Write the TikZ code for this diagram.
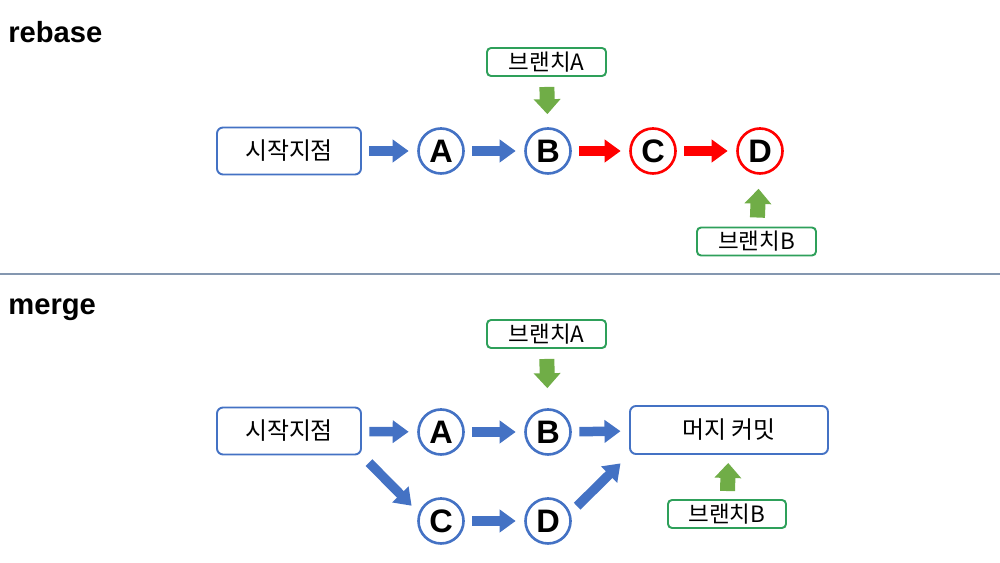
\documentclass[tikz,border=0pt]{standalone}
\usepackage{fontspec}
\setmainfont{Noto Sans CJK KR}
\newfontfamily\latinfont{Liberation Sans}
\usetikzlibrary{arrows.meta}
\definecolor{gitblue}{RGB}{68,114,196}
\definecolor{gitred}{RGB}{255,0,0}
\definecolor{gitgreen}{RGB}{112,173,71}
\definecolor{tagline}{RGB}{46,160,90}
\definecolor{rulecol}{RGB}{132,151,176}

\begin{document}
\begin{tikzpicture}[
    startbox/.style={draw=gitblue, line width=1.1pt, rounded corners=0.12cm, minimum width=2.88cm, minimum height=0.94cm, font=\fontsize{13.6}{15}\selectfont},
    commit/.style={circle, draw=#1, line width=1.5pt, minimum size=0.9cm, inner sep=0pt, font=\latinfont\bfseries\fontsize{18.5}{20}\selectfont},
    tagbox/.style={draw=tagline, line width=1.1pt, rounded corners=0.08cm, minimum width=2.38cm, minimum height=0.56cm, inner sep=0pt, font=\fontsize{12.8}{14}\selectfont},
    flow/.style={draw=#1, line width=0.19cm, -{Triangle[length=0.32cm, width=0.44cm]}, shorten <=0.15cm, shorten >=0.17cm},
    pointer/.style={draw=gitgreen, line width=0.3cm, -{Triangle[length=0.3cm, width=0.52cm]}},
    title/.style={anchor=west, inner sep=0pt, font=\latinfont\bfseries\fontsize{16.6}{18}\selectfont}
]
    \useasboundingbox (0,0) rectangle (20,11.26);
    % Rebase
    \node[title] (rtitle) at (0.16,10.62) {rebase};
    \node[startbox] (s1) at (5.78,8.24) {시작지점};
    \node[commit=gitblue] (a1) at (8.82,8.24) {A};
    \node[commit=gitblue] (b1) at (10.96,8.24) {B};
    \node[commit=gitred] (c1) at (13.06,8.24) {C};
    \node[commit=gitred] (d1) at (15.2,8.24) {D};
    \node[tagbox] (ta1) at (10.93,10.02) {브랜치A};
    \node[tagbox] (tb1) at (15.13,6.43) {브랜치B};
    \draw[flow=gitblue] (s1) -- (a1);
    \draw[flow=gitblue] (a1) -- (b1);
    \draw[flow=gitred] (b1) -- (c1);
    \draw[flow=gitred] (c1) -- (d1);
    \draw[pointer, shorten <=0.2cm, shorten >=0.26cm] (ta1) -- (b1);
    \draw[pointer, shorten <=0.18cm, shorten >=0.28cm] (tb1) -- (d1);
    % Separator
    \draw[rulecol, line width=1.2pt] (0,5.78) -- (20,5.78);
    % Merge
    \node[title] (mtitle) at (0.16,5.06) {merge};
    \node[startbox] (s2) at (5.78,2.64) {시작지점};
    \node[commit=gitblue] (a2) at (8.82,2.62) {A};
    \node[commit=gitblue] (b2) at (10.96,2.62) {B};
    \node[commit=gitblue] (c2) at (8.82,0.84) {C};
    \node[commit=gitblue] (d2) at (10.96,0.84) {D};
    \node[startbox, minimum width=3.96cm, minimum height=0.96cm] (m2) at (14.58,2.66) {머지 커밋};
    \node[tagbox] (ta2) at (10.93,4.58) {브랜치A};
    \node[tagbox, minimum width=2.36cm] (tb2) at (14.54,0.98) {브랜치B};
    \draw[flow=gitblue] (s2) -- (a2);
    \draw[flow=gitblue] (a2) -- (b2);
    \draw[flow=gitblue] (b2) -- (m2);
    \draw[flow=gitblue] (c2) -- (d2);
    \draw[flow=gitblue, shorten <=0.2cm, shorten >=0.2cm] (s2.south east) -- (c2.160);
    \draw[flow=gitblue, shorten <=0.19cm, shorten >=0.24cm] (d2.20) -- (m2.south west);
    \draw[pointer, shorten <=0.2cm, shorten >=0.4cm] (ta2) -- (b2);
    \draw[pointer, shorten <=0.16cm, shorten >=0.16cm] (tb2) -- (m2);
\end{tikzpicture}
\end{document}
